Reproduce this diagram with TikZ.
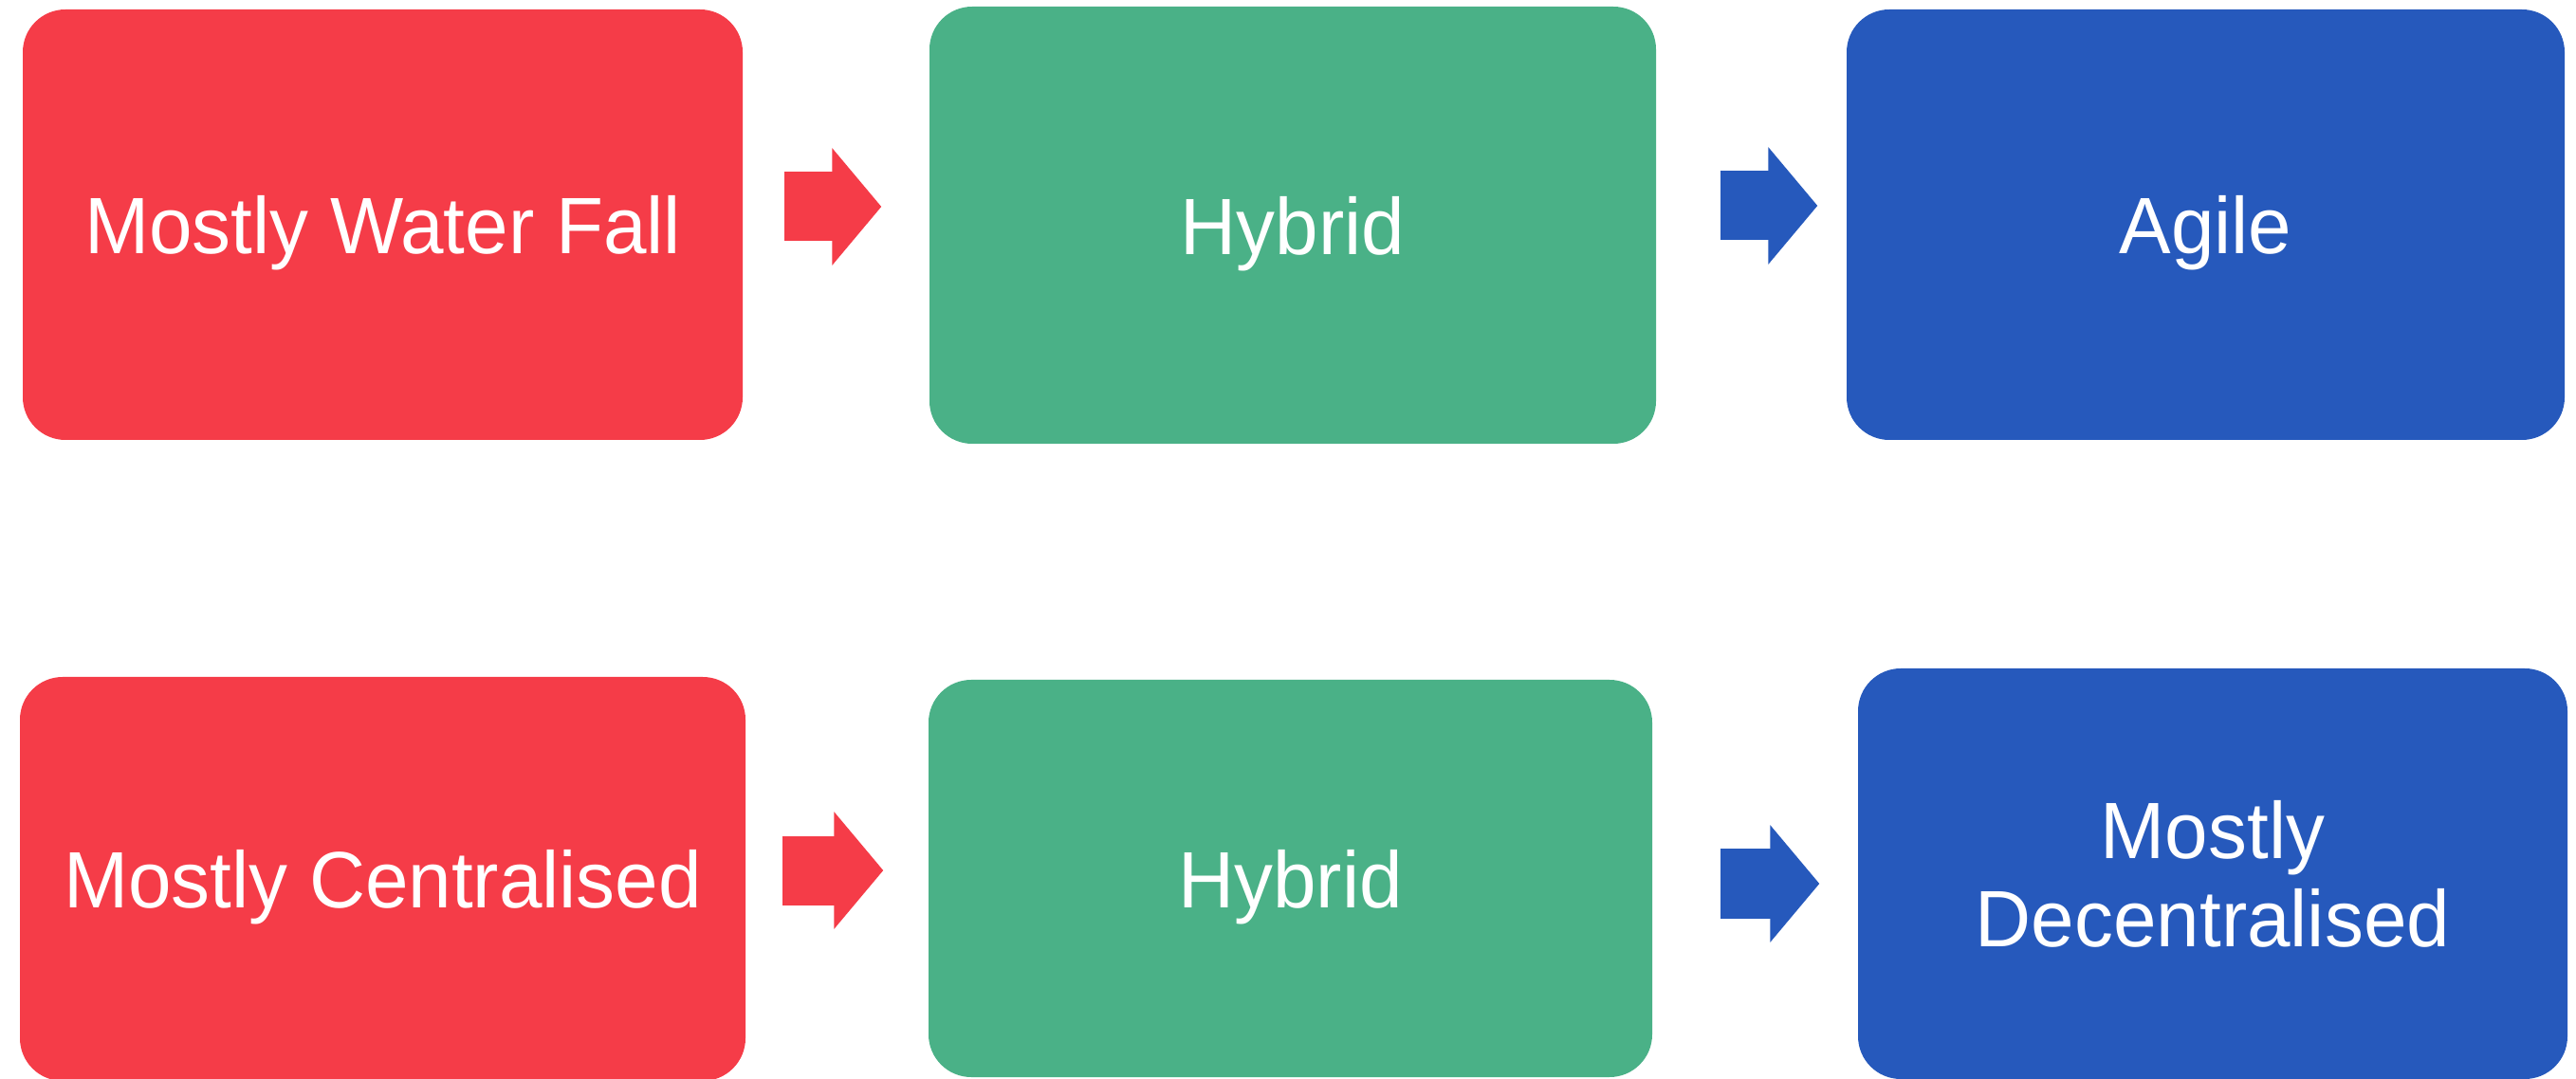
\documentclass[tikz,border=0pt]{standalone}
\usepackage{fontspec}
\setmainfont[FakeStretch=0.97]{Liberation Sans}
\usetikzlibrary{calc,arrows.meta}

\definecolor{stagered}{RGB}{245,60,72}
\definecolor{stagegreen}{RGB}{74,177,135}
\definecolor{stageblue}{RGB}{38,89,188}

\tikzset{
  stage/.style={fill=#1, rounded corners=0.45cm, text=white, align=center,
    font=\fontsize{24}{26.5}\selectfont, inner sep=0pt, text depth=0pt},
  flow/.style={draw=#1, line width=0.73cm, -{Triangle[length=0.52cm,width=1.21cm]}}
}

\begin{document}
\begin{tikzpicture}
  \useasboundingbox (0,0) rectangle (27.16,-11.38);

  % top row
  \node[stage=stagered, minimum width=7.59cm, minimum height=4.54cm] (waterfall) at (4.035,-2.37) {Mostly Water Fall};
  \node[stage=stagegreen, minimum width=7.66cm, minimum height=4.61cm] (hybrid_top) at (13.63,-2.375) {Hybrid};
  \node[stage=stageblue, minimum width=7.57cm, minimum height=4.54cm] (agile) at (23.255,-2.37) {Agile};

  \coordinate (flow1) at ($(waterfall.east)+(0.43,0.19)$);
  \coordinate (flow2) at ($(hybrid_top.east)+(0.67,0.205)$);
  \draw[flow=stagered] (flow1) -- ($(flow1 -| hybrid_top.west)+(-0.50,0)$);
  \draw[flow=stageblue] (flow2) -- ($(flow2 -| agile.west)+(-0.30,0)$);

  % bottom row
  \node[stage=stagered, minimum width=7.65cm, minimum height=4.26cm] (central) at (4.035,-9.27) {Mostly Centralised};
  \node[stage=stagegreen, minimum width=7.63cm, minimum height=4.19cm] (hybrid_bot) at (13.605,-9.265) {Hybrid};
  \node[stage=stageblue, minimum width=7.48cm, minimum height=4.33cm] (decentral) at (23.33,-9.215) {Mostly\\Decentralised};

  \coordinate (flow3) at ($(central.east)+(0.38,0.09)$);
  \coordinate (flow4) at ($(hybrid_bot.east)+(0.71,-0.055)$);
  \draw[flow=stagered] (flow3) -- ($(flow3 -| hybrid_bot.west)+(-0.47,0)$);
  \draw[flow=stageblue] (flow4) -- ($(flow4 -| decentral.west)+(-0.40,0)$);
\end{tikzpicture}
\end{document}
